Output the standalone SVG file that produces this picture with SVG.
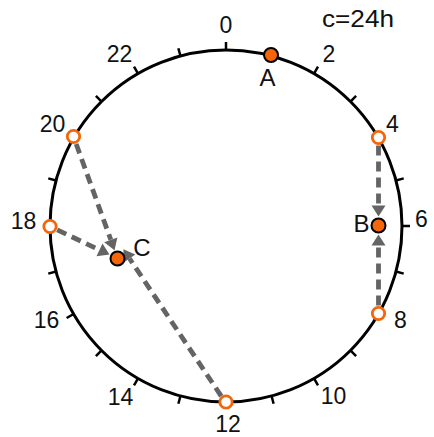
<svg xmlns="http://www.w3.org/2000/svg" width="434" height="437" viewBox="0 0 434 437">
<style>
.lbl{font-family:"Liberation Sans",Arial,sans-serif;font-size:23px;fill:#111;text-anchor:middle}
.big{font-size:24px}
.tick{stroke:#000;stroke-width:2.5}
.conn{fill:none;stroke:#646464;stroke-width:4.8;stroke-dasharray:10 6}
.hollow{fill:#fff;stroke:#F5650A;stroke-width:2.8}
.filled{fill:#F5650A;stroke:#000;stroke-width:2}
</style>
<defs>
<marker id="ah" markerUnits="userSpaceOnUse" markerWidth="13" markerHeight="15" viewBox="0 -7.5 11 15" refX="0" refY="0" orient="auto">
<path d="M0,-7 L11,0 L0,7 Z" fill="#646464"/>
</marker>
</defs>
<rect width="434" height="437" fill="#fff"/>
<g id="clock">
<circle cx="226" cy="226" r="176" fill="none" stroke="#000" stroke-width="3"/>
<g id="ticks">
<line class="tick" x1="226" y1="50" x2="226" y2="42" transform="rotate(0 226 226)"/>
<line class="tick" x1="226" y1="50" x2="226" y2="42" transform="rotate(30 226 226)"/>
<line class="tick" x1="226" y1="50" x2="226" y2="42" transform="rotate(45 226 226)"/>
<line class="tick" x1="226" y1="50" x2="226" y2="42" transform="rotate(75 226 226)"/>
<line class="tick" x1="226" y1="50" x2="226" y2="42" transform="rotate(90 226 226)"/>
<line class="tick" x1="226" y1="50" x2="226" y2="42" transform="rotate(105 226 226)"/>
<line class="tick" x1="226" y1="50" x2="226" y2="42" transform="rotate(135 226 226)"/>
<line class="tick" x1="226" y1="50" x2="226" y2="42" transform="rotate(150 226 226)"/>
<line class="tick" x1="226" y1="50" x2="226" y2="42" transform="rotate(165 226 226)"/>
<line class="tick" x1="226" y1="50" x2="226" y2="42" transform="rotate(195 226 226)"/>
<line class="tick" x1="226" y1="50" x2="226" y2="42" transform="rotate(210 226 226)"/>
<line class="tick" x1="226" y1="50" x2="226" y2="42" transform="rotate(225 226 226)"/>
<line class="tick" x1="226" y1="50" x2="226" y2="42" transform="rotate(240 226 226)"/>
<line class="tick" x1="226" y1="50" x2="226" y2="42" transform="rotate(255 226 226)"/>
<line class="tick" x1="226" y1="50" x2="226" y2="42" transform="rotate(285 226 226)"/>
<line class="tick" x1="226" y1="50" x2="226" y2="42" transform="rotate(315 226 226)"/>
<line class="tick" x1="226" y1="50" x2="226" y2="42" transform="rotate(330 226 226)"/>
<line class="tick" x1="226" y1="50" x2="226" y2="42" transform="rotate(345 226 226)"/>
</g>
<g id="hour-labels">
<text class="lbl" x="226" y="33">0</text>
<text class="lbl" x="329" y="62">2</text>
<text class="lbl" x="392.5" y="132">4</text>
<text class="lbl" x="421.5" y="227">6</text>
<text class="lbl" x="400.5" y="328">8</text>
<text class="lbl" x="333.5" y="404">10</text>
<text class="lbl" x="228" y="431.5">12</text>
<text class="lbl" x="120.5" y="405">14</text>
<text class="lbl" x="46.5" y="328">16</text>
<text class="lbl" x="23.5" y="229">18</text>
<text class="lbl" x="52.5" y="132">20</text>
<text class="lbl" x="119.5" y="62">22</text>
</g>
<text class="lbl big" x="322" y="27" style="text-anchor:start" textLength="72" lengthAdjust="spacingAndGlyphs">c=24h</text>
</g>
<g id="connectors">
<path class="conn" d="M76.2,144 L110.8,239.8" marker-end="url(#ah)"/>
<path class="conn" d="M57.2,229.9 L99.5,249.9" marker-end="url(#ah)"/>
<path class="conn" d="M221.2,396.1 L129.5,258.5" marker-end="url(#ah)"/>
<path class="conn" d="M378.5,145.5 L378.5,205.5" marker-end="url(#ah)"/>
<path class="conn" d="M378.5,305.5 L378.5,245.5" marker-end="url(#ah)"/>
</g>
<g id="node-A"><circle class="filled" cx="271" cy="55" r="7"/><text class="lbl big" x="267.5" y="86">A</text></g>
<g id="node-B"><circle class="filled" cx="378.5" cy="225.5" r="7"/><text class="lbl big" x="361.5" y="231.5">B</text></g>
<g id="node-C"><circle class="filled" cx="117.5" cy="258.5" r="7"/><text class="lbl big" x="142" y="255.5">C</text></g>
<g id="node-h4"><circle class="hollow" cx="378.5" cy="137.5" r="6.2"/></g>
<g id="node-h8"><circle class="hollow" cx="378.5" cy="313.5" r="6.2"/></g>
<g id="node-h12"><circle class="hollow" cx="226" cy="402" r="6.2"/></g>
<g id="node-h18"><circle class="hollow" cx="50" cy="226.5" r="6.2"/></g>
<g id="node-h20"><circle class="hollow" cx="73.5" cy="136.5" r="6.2"/></g>
</svg>
